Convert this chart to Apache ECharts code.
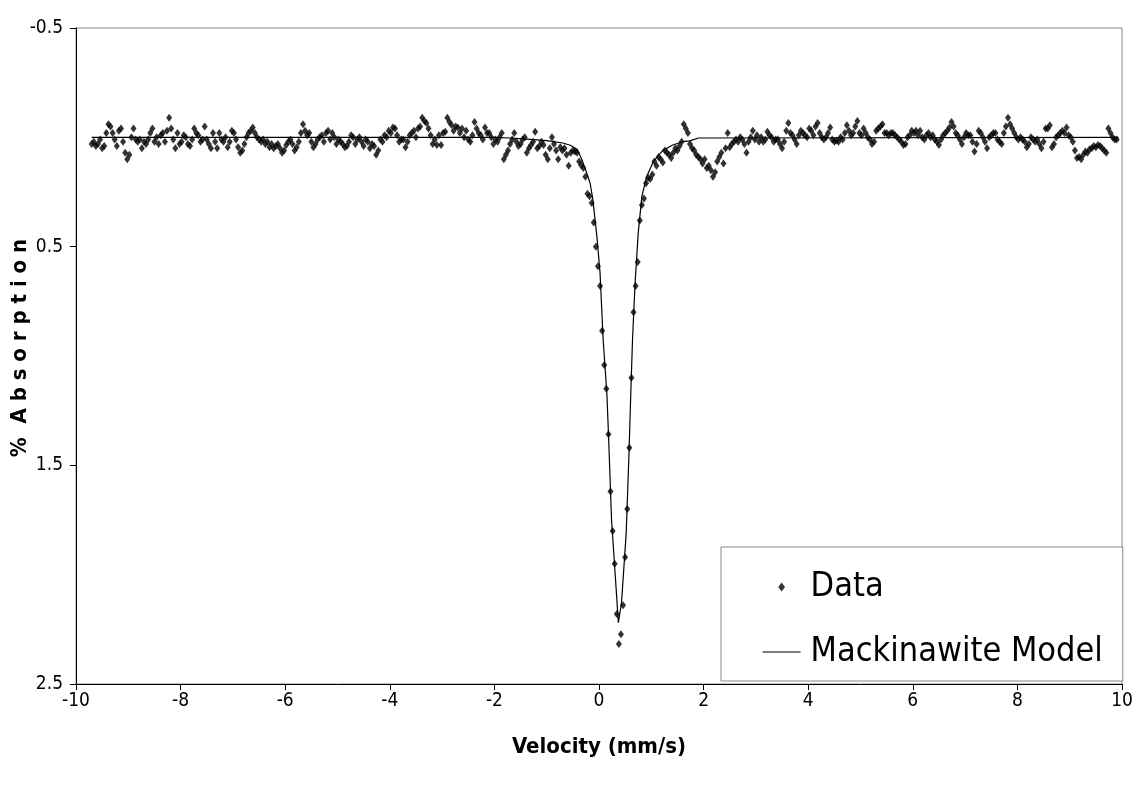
<!DOCTYPE html>
<html><head><meta charset="utf-8">
<script src="https://cdn.jsdelivr.net/npm/echarts@6/dist/echarts.min.js"></script>
<style>html,body{margin:0;padding:0;background:#fff}#c{width:1136px;height:788px}</style>
</head><body><div id="c"></div><script>
// Measured velocities (mm/s)
const velocity = [
-9.70,-9.66,-9.62,-9.58,-9.54,-9.50,-9.46,-9.42,-9.38,-9.34,
-9.30,-9.26,-9.22,-9.18,-9.14,-9.10,-9.06,-9.02,-8.98,-8.94,
-8.90,-8.86,-8.82,-8.78,-8.74,-8.70,-8.66,-8.62,-8.58,-8.54,
-8.50,-8.46,-8.42,-8.38,-8.34,-8.30,-8.26,-8.22,-8.18,-8.14,
-8.10,-8.06,-8.02,-7.98,-7.94,-7.90,-7.86,-7.82,-7.78,-7.74,
-7.70,-7.66,-7.62,-7.58,-7.54,-7.50,-7.46,-7.42,-7.38,-7.34,
-7.30,-7.26,-7.22,-7.18,-7.14,-7.10,-7.06,-7.02,-6.98,-6.94,
-6.90,-6.86,-6.82,-6.78,-6.74,-6.70,-6.66,-6.62,-6.58,-6.54,
-6.50,-6.46,-6.42,-6.38,-6.34,-6.30,-6.26,-6.22,-6.18,-6.14,
-6.10,-6.06,-6.02,-5.98,-5.94,-5.90,-5.86,-5.82,-5.78,-5.74,
-5.70,-5.66,-5.62,-5.58,-5.54,-5.50,-5.46,-5.42,-5.38,-5.34,
-5.30,-5.26,-5.22,-5.18,-5.14,-5.10,-5.06,-5.02,-4.98,-4.94,
-4.90,-4.86,-4.82,-4.78,-4.74,-4.70,-4.66,-4.62,-4.58,-4.54,
-4.50,-4.46,-4.42,-4.38,-4.34,-4.30,-4.26,-4.22,-4.18,-4.14,
-4.10,-4.06,-4.02,-3.98,-3.94,-3.90,-3.86,-3.82,-3.78,-3.74,
-3.70,-3.66,-3.62,-3.58,-3.54,-3.50,-3.46,-3.42,-3.38,-3.34,
-3.30,-3.26,-3.22,-3.18,-3.14,-3.10,-3.06,-3.02,-2.98,-2.94,
-2.90,-2.86,-2.82,-2.78,-2.74,-2.70,-2.66,-2.62,-2.58,-2.54,
-2.50,-2.46,-2.42,-2.38,-2.34,-2.30,-2.26,-2.22,-2.18,-2.14,
-2.10,-2.06,-2.02,-1.98,-1.94,-1.90,-1.86,-1.82,-1.78,-1.74,
-1.70,-1.66,-1.62,-1.58,-1.54,-1.50,-1.46,-1.42,-1.38,-1.34,
-1.30,-1.26,-1.22,-1.18,-1.14,-1.10,-1.06,-1.02,-0.98,-0.94,
-0.90,-0.86,-0.82,-0.78,-0.74,-0.70,-0.66,-0.62,-0.58,-0.54,
-0.50,-0.46,-0.42,-0.38,-0.34,-0.30,-0.26,-0.22,-0.18,-0.14,
-0.10,-0.06,-0.02,0.02,0.06,0.10,0.14,0.18,0.22,0.26,
0.30,0.34,0.38,0.42,0.46,0.50,0.54,0.58,0.62,0.66,
0.70,0.74,0.78,0.82,0.86,0.90,0.94,0.98,1.02,1.06,
1.10,1.14,1.18,1.22,1.26,1.30,1.34,1.38,1.42,1.46,
1.50,1.54,1.58,1.62,1.66,1.70,1.74,1.78,1.82,1.86,
1.90,1.94,1.98,2.02,2.06,2.10,2.14,2.18,2.22,2.26,
2.30,2.34,2.38,2.42,2.46,2.50,2.54,2.58,2.62,2.66,
2.70,2.74,2.78,2.82,2.86,2.90,2.94,2.98,3.02,3.06,
3.10,3.14,3.18,3.22,3.26,3.30,3.34,3.38,3.42,3.46,
3.50,3.54,3.58,3.62,3.66,3.70,3.74,3.78,3.82,3.86,
3.90,3.94,3.98,4.02,4.06,4.10,4.14,4.18,4.22,4.26,
4.30,4.34,4.38,4.42,4.46,4.50,4.54,4.58,4.62,4.66,
4.70,4.74,4.78,4.82,4.86,4.90,4.94,4.98,5.02,5.06,
5.10,5.14,5.18,5.22,5.26,5.30,5.34,5.38,5.42,5.46,
5.50,5.54,5.58,5.62,5.66,5.70,5.74,5.78,5.82,5.86,
5.90,5.94,5.98,6.02,6.06,6.10,6.14,6.18,6.22,6.26,
6.30,6.34,6.38,6.42,6.46,6.50,6.54,6.58,6.62,6.66,
6.70,6.74,6.78,6.82,6.86,6.90,6.94,6.98,7.02,7.06,
7.10,7.14,7.18,7.22,7.26,7.30,7.34,7.38,7.42,7.46,
7.50,7.54,7.58,7.62,7.66,7.70,7.74,7.78,7.82,7.86,
7.90,7.94,7.98,8.02,8.06,8.10,8.14,8.18,8.22,8.26,
8.30,8.34,8.38,8.42,8.46,8.50,8.54,8.58,8.62,8.66,
8.70,8.74,8.78,8.82,8.86,8.90,8.94,8.98,9.02,9.06,
9.10,9.14,9.18,9.22,9.26,9.30,9.34,9.38,9.42,9.46,
9.50,9.54,9.58,9.62,9.66,9.70,9.74,9.78,9.82,9.86,
9.90
];
// Measured % absorption at each velocity
const absorption = [
0.03,0.02,0.04,0.03,0.01,0.05,0.04,-0.02,-0.06,-0.05,
-0.02,0.01,0.04,-0.03,-0.04,0.02,0.07,0.10,0.08,0.00,
-0.04,0.01,0.02,0.01,0.05,0.02,0.03,0.01,-0.02,-0.04,
0.02,0.00,0.03,-0.01,-0.02,0.02,-0.03,-0.09,-0.04,0.01,
0.05,-0.02,0.03,0.02,-0.01,0.00,0.03,0.04,0.01,-0.04,
-0.02,-0.01,0.02,0.01,-0.05,0.01,0.03,0.05,-0.02,0.02,
0.05,-0.02,0.01,0.02,0.00,0.045,0.02,-0.03,-0.02,0.01,
0.045,0.07,0.06,0.03,0.00,-0.02,-0.03,-0.045,-0.02,0.00,
0.01,0.02,0.01,0.03,0.02,0.045,0.03,0.05,0.04,0.03,
0.05,0.07,0.06,0.035,0.02,0.01,0.03,0.06,0.045,0.02,
-0.02,-0.06,-0.03,-0.01,-0.02,0.02,0.045,0.03,0.01,0.00,
-0.01,0.02,-0.02,-0.03,0.01,-0.02,0.00,0.03,0.01,0.02,
0.03,0.045,0.04,0.02,-0.01,0.00,0.03,0.01,0.00,0.02,
0.04,0.01,0.02,0.05,0.03,0.04,0.08,0.06,0.01,0.02,
-0.01,0.00,-0.03,-0.02,-0.045,-0.04,-0.01,0.02,0.01,0.01,
0.045,0.02,-0.01,-0.02,-0.03,0.00,-0.04,-0.05,-0.09,-0.075,
-0.065,-0.04,-0.01,0.03,0.01,0.035,-0.01,0.035,-0.02,-0.025,
-0.09,-0.07,-0.056,-0.03,-0.05,-0.045,-0.02,-0.04,0.00,-0.03,
0.01,0.02,-0.01,-0.07,-0.04,-0.02,-0.01,0.01,-0.045,-0.02,
-0.02,0.00,0.03,0.01,0.02,0.00,-0.02,0.10,0.08,0.06,
0.03,0.01,-0.02,0.02,0.04,0.03,0.01,0.00,0.07,0.05,
0.035,0.02,-0.025,0.05,0.04,0.02,0.035,0.08,0.10,0.05,
0.00,0.03,0.06,0.10,0.045,0.06,0.05,0.08,0.13,0.07,
0.06,0.065,0.070,0.110,0.128,0.140,0.180,0.258,0.270,0.300,
0.390,0.500,0.590,0.680,0.885,1.041,1.150,1.358,1.620,1.800,
1.950,2.180,2.317,2.272,2.140,1.920,1.700,1.420,1.100,0.800,
0.680,0.570,0.380,0.310,0.280,0.210,0.185,0.190,0.170,0.110,
0.13,0.09,0.10,0.115,0.06,0.07,0.08,0.095,0.07,0.05,
0.06,0.04,0.02,-0.06,-0.04,-0.02,0.03,0.05,0.06,0.08,
0.09,0.10,0.12,0.10,0.14,0.13,0.15,0.18,0.16,0.11,
0.09,0.07,0.12,0.05,-0.02,0.045,0.03,0.02,0.01,0.02,
0.00,0.01,0.03,0.07,0.02,0.00,-0.03,0.01,-0.01,0.02,
0.00,0.02,0.01,-0.025,-0.01,0.00,0.02,0.01,0.01,0.03,
0.05,0.02,-0.03,-0.065,-0.02,-0.01,0.01,0.03,-0.01,-0.03,
-0.02,-0.01,0.00,-0.04,-0.03,-0.01,-0.05,-0.065,-0.02,0.00,
0.01,0.00,-0.02,-0.045,0.01,0.02,0.015,0.02,0.00,0.01,
-0.02,-0.055,-0.03,-0.01,-0.02,-0.05,-0.075,-0.02,-0.01,-0.04,
-0.02,0.00,0.01,0.03,0.02,-0.03,-0.04,-0.05,-0.06,-0.02,
-0.02,-0.01,-0.02,-0.02,-0.01,0.00,0.01,0.02,0.035,0.03,
0.00,-0.01,-0.03,-0.02,-0.03,-0.01,-0.03,0.00,0.01,-0.01,
-0.02,0.00,-0.01,0.01,0.02,0.035,0.01,-0.01,-0.02,-0.03,
-0.045,-0.07,-0.05,-0.02,-0.01,0.01,0.03,0.00,-0.02,-0.01,
-0.01,0.02,0.065,0.03,-0.03,-0.02,0.00,0.02,0.05,0.00,
-0.01,-0.02,-0.02,0.01,0.02,0.03,-0.02,-0.05,-0.09,-0.06,
-0.04,-0.02,0.00,0.01,0.00,0.01,0.02,0.045,0.03,0.00,
0.01,0.02,0.01,0.03,0.05,0.02,-0.04,-0.04,-0.055,0.045,
0.03,0.00,-0.01,-0.02,-0.03,-0.02,-0.045,-0.01,0.00,0.02,
0.06,0.095,0.09,0.10,0.08,0.065,0.07,0.055,0.05,0.04,
0.045,0.035,0.04,0.05,0.06,0.07,-0.04,-0.02,0.00,0.01,
0.01
];
// Mackinawite model curve
const modelVelocity = [-9.70,-2.00,-1.70,-1.38,-1.00,-0.69,-0.55,-0.42,-0.33,-0.235,-0.17,-0.12,-0.04,0.02,0.08,0.15,0.18,0.24,0.31,0.37,0.43,0.52,0.57,0.61,0.64,0.69,0.75,0.82,0.91,1.04,1.22,1.41,1.60,1.74,1.90,9.93];
const modelAbsorption = [0.000,0.000,0.003,0.008,0.015,0.026,0.036,0.055,0.100,0.163,0.210,0.280,0.454,0.620,0.927,1.170,1.350,1.750,2.000,2.220,2.130,1.810,1.470,1.155,0.930,0.666,0.437,0.270,0.180,0.111,0.060,0.035,0.020,0.016,0.003,0.000];
const xTicks = [-10,-8,-6,-4,-2,0,2,4,6,8,10];
const yTicks = [-0.5,0.5,1.5,2.5];
const seriesNames = ['Data','Mackinawite Model'];

const FONT = "'Liberation Sans Narrow','Arial Narrow','DejaVu Sans Condensed',sans-serif";
const chart = echarts.init(document.getElementById('c'), null, {renderer:'canvas'});
chart.setOption({
  animation:false,
  backgroundColor:'#fff',
  grid:{left:76,right:14,top:28,bottom:104,show:true,borderColor:'#888',borderWidth:1,backgroundColor:'transparent',
    containLabel:false,outerBoundsMode:'none'},
  xAxis:{
    type:'value',min:xTicks[0],max:xTicks[xTicks.length-1],interval:2,
    name:'Velocity (mm/s)',nameLocation:'middle',nameGap:52,
    nameTextStyle:{fontFamily:FONT,fontWeight:'bold',fontSize:22,color:'#000'},
    axisLine:{show:true,onZero:false,lineStyle:{color:'#000',width:1}},
    axisTick:{show:true,inside:false,length:6,lineStyle:{color:'#000'}},
    axisLabel:{fontFamily:FONT,fontSize:19,color:'#000',margin:8,customValues:xTicks},
    splitLine:{show:false}
  },
  yAxis:{
    type:'value',inverse:true,min:yTicks[0],max:yTicks[yTicks.length-1],interval:1,
    name:'%  A b s o r p t i o n',nameLocation:'middle',nameGap:45,nameRotate:90,nameMoveOverlap:false,
    nameTextStyle:{fontFamily:FONT,fontWeight:'bold',fontSize:22,color:'#000',padding:[0,0,0,16]},
    axisLine:{show:true,onZero:false,lineStyle:{color:'#000',width:1}},
    axisTick:{show:true,inside:false,length:6,lineStyle:{color:'#000'},customValues:yTicks},
    axisLabel:{fontFamily:FONT,fontSize:19,color:'#000',margin:13,customValues:yTicks,
      formatter:function(v){return String(v);}},
    splitLine:{show:false}
  },
  legend:{
    orient:'vertical',left:721,top:547,
    padding:[20,20,9,41],itemGap:25,itemWidth:38,itemHeight:9,
    symbolKeepAspect:true,
    backgroundColor:'#fff',borderColor:'#888',borderWidth:1,borderRadius:0,
    textStyle:{fontFamily:FONT,fontSize:34,color:'#000',lineHeight:40,padding:[0,0,0,5]},
    data:[
      {name:seriesNames[0],icon:'path://M3,0 L6,4 L3,8 L0,4 Z',itemStyle:{color:'#000'}},
      {name:seriesNames[1],itemStyle:{color:'rgba(0,0,0,0)',borderWidth:0},lineStyle:{color:'#000',width:1.2}}
    ]
  },
  series:[
    {name:seriesNames[0],type:'scatter',symbol:'diamond',symbolSize:[6,8],
     itemStyle:{color:'#000'},data:velocity.map((v,i)=>[v,absorption[i]]),z:3},
    {name:seriesNames[1],type:'line',symbol:'none',showSymbol:false,
     lineStyle:{color:'#000',width:1.2},itemStyle:{color:'#000'},
     data:modelVelocity.map((v,i)=>[v,modelAbsorption[i]]),z:4}
  ]
});
</script></body></html>
